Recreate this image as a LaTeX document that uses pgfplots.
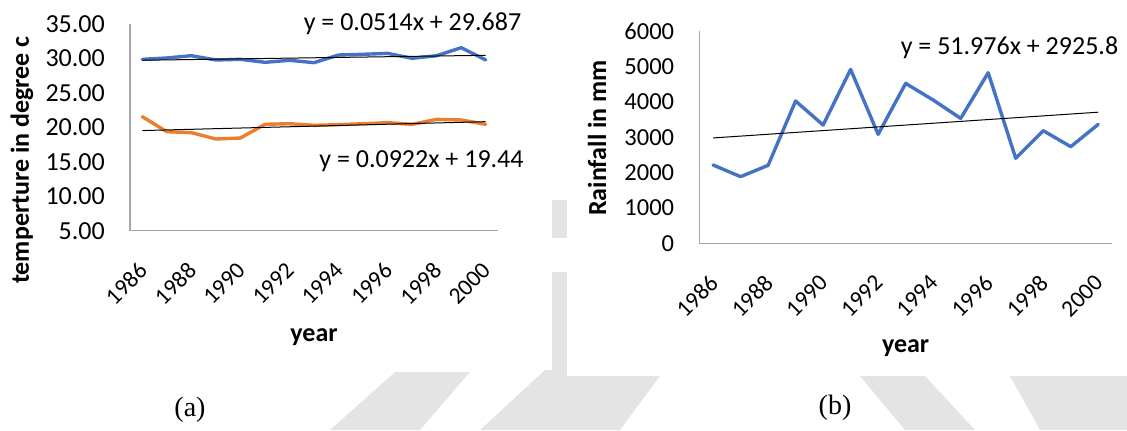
\documentclass[border=0pt]{standalone}
\usepackage{fontspec}
\setmainfont{Carlito}
\newfontfamily\capfont{Liberation Serif}
\usepackage{pgfplots}
\pgfplotsset{compat=1.18}

\definecolor{serblue}{HTML}{4472C4}
\definecolor{serorange}{HTML}{ED7D31}
\definecolor{axgray}{HTML}{A6A6A6}
\definecolor{wmgray}{HTML}{E4E4E4}

% mean temperature per year (max and min series)
\pgfplotstableread{
year  tmax   tmin
1986  29.87  21.55
1987  30.07  19.37
1988  30.40  19.23
1989  29.78  18.31
1990  29.87  18.45
1991  29.44  20.44
1992  29.73  20.53
1993  29.39  20.29
1994  30.50  20.39
1995  30.60  20.53
1996  30.74  20.68
1997  30.02  20.44
1998  30.40  21.16
1999  31.56  21.07
2000  29.78  20.44
}\temptable

% annual rainfall (mm)
\pgfplotstableread{
year  rain
1986  2213
1987  1883
1988  2203
1989  4021
1990  3343
1991  4915
1992  3079
1993  4520
1994  4049
1995  3531
1996  4821
1997  2401
1998  3183
1999  2731
2000  3362
}\raintable

\pgfplotsset{
  excel/.style={
    scale only axis,
    xmin=1985.5, xmax=2000.5,
    axis x line*=bottom, axis y line*=left,
    axis line style={draw=axgray, line width=1.2bp},
    major tick length=0pt,
    xtick={1986,1988,...,2000},
    xticklabels={1986,1988,1990,1992,1994,1996,1998,2000},
    x tick label style={xshift=-5bp, yshift=-30bp, rotate=45, anchor=north east, inner sep=0pt,
      font=\fontsize{23.5bp}{28bp}\selectfont},
    y tick label style={anchor=east, inner sep=0pt, xshift=-25bp},
    clip=false,
  },
  ser/.style={line width=3.4bp, line join=round, line cap=round},
  trend/.style={black, line width=1bp},
}

\begin{document}
\fontsize{26bp}{31bp}\selectfont
\begin{tikzpicture}[x=1bp,y=1bp]
\useasboundingbox (0,0) rectangle (1127,430);

% faint watermark showing between and below the two panels
\fill[wmgray] (552,230) rectangle (567,192);
\fill[wmgray] (552,158) rectangle (567,54);
\fill[wmgray] (330,0) -- (395,58) -- (470,58) -- (420,0) -- cycle;
\fill[wmgray] (480,0) -- (545,60) -- (552,60) -- (567,54) -- (660,54) -- (620,0) -- cycle;
\fill[wmgray] (860,54) -- (925,54) -- (975,0) -- (905,0) -- cycle;
\fill[wmgray] (1010,54) -- (1127,54) -- (1127,0) -- (1040,0) -- cycle;

% (a) temperature
\begin{axis}[excel,
  at={(130bp,199.3bp)}, anchor=south west,
  width=368bp, height=206.7bp,
  ymin=5, ymax=35,
  ytick={5,10,...,35},
  yticklabels={5.00,10.00,15.00,20.00,25.00,30.00,35.00},
  y tick label style={font=\fontsize{26bp}{31bp}\selectfont},
]
\addplot[ser, serblue] table[x=year, y=tmax] {\temptable};
\addplot[ser, serorange] table[x=year, y=tmin] {\temptable};
% linear trends y = 0.0514x + 29.687 and y = 0.0922x + 19.44 (x = 1..15)
\addplot[trend] coordinates {(1986,29.7384) (2000,30.458)};
\addplot[trend] coordinates {(1986,19.5322) (2000,20.823)};
\end{axis}

% (b) rainfall
\begin{axis}[excel,
  at={(699.3bp,186.7bp)}, anchor=south west,
  width=412.7bp, height=212.3bp,
  ymin=0, ymax=6000,
  ytick={0,1000,...,6000},
  yticklabels={0,1000,2000,3000,4000,5000,6000},
  y tick label style={font=\fontsize{24.5bp}{29bp}\selectfont},
]
\addplot[ser, serblue] table[x=year, y=rain] {\raintable};
% linear trend y = 51.976x + 2925.8 (x = 1..15)
\addplot[trend] coordinates {(1986,2977.776) (2000,3705.44)};
\end{axis}

% trend equations
\node[anchor=base, inner sep=0pt] at (412.5,399.3) {y = 0.0514x + 29.687};
\node[anchor=base, inner sep=0pt] at (421.5,263) {y = 0.0922x + 19.44};
\node[anchor=base, inner sep=0pt] at (1009.5,376) {y = 51.976x + 2925.8};

% axis titles
\node[rotate=90, inner sep=0pt, font=\bfseries] at (22,270) {temperture in degree c};
\node[rotate=90, inner sep=0pt, font=\bfseries] at (597,292) {Rainfall in mm};
\node[anchor=base, inner sep=0pt, font=\bfseries] at (314,89) {year};
\node[anchor=base, inner sep=0pt, font=\bfseries] at (905.6,78) {year};

% panel captions
\node[inner sep=0pt, font=\capfont\fontsize{28bp}{33bp}\selectfont] at (190,20) {(a)};
\node[inner sep=0pt, font=\capfont\fontsize{28bp}{33bp}\selectfont] at (835,22) {(b)};
\end{tikzpicture}
\end{document}
